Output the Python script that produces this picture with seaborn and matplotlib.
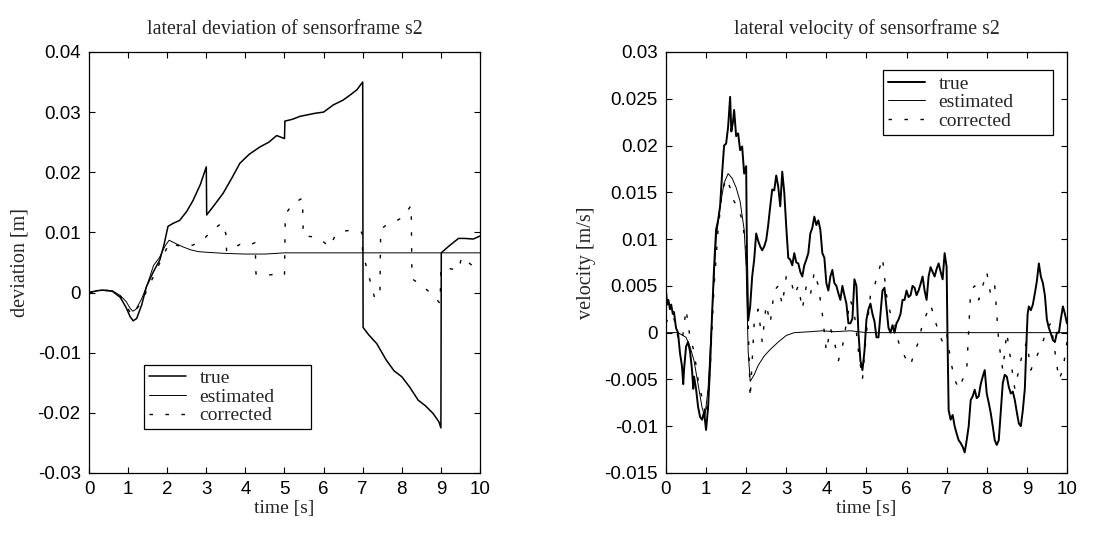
import numpy as np
import pandas as pd
import matplotlib
matplotlib.use("Agg")
import matplotlib.pyplot as plt
import seaborn as sns
from matplotlib.ticker import FuncFormatter, MultipleLocator

# ---------------- data: lateral deviation ----------------
DEV_TRUE_T = [0, 0.2, 0.36, 0.6, 0.8, 0.95, 1.05, 1.13, 1.22, 1.35, 1.47, 1.65, 1.81, 1.92, 2.02,
              2.15, 2.32, 2.5, 2.66, 2.85, 3.0, 3.01, 3.2, 3.43, 3.65, 3.86, 4.1, 4.37, 4.6, 4.8,
              5.0, 5.01, 5.2, 5.4, 5.78, 6.0, 6.25, 6.5, 6.67, 6.85, 7.0, 7.01, 7.15, 7.36, 7.6,
              7.8, 8.0, 8.2, 8.42, 8.6, 8.8, 8.95, 9.0, 9.01, 9.2, 9.45, 9.6, 9.83, 10.0]
DEV_TRUE_V = [0, 0.0003, 0.0004, 0.0002, -0.0008, -0.0025, -0.004, -0.0047, -0.0043, -0.002,
              0.001, 0.0035, 0.0054, 0.008, 0.011, 0.0115, 0.012, 0.0135, 0.0153, 0.018,
              0.0209, 0.0129, 0.0145, 0.0165, 0.019, 0.0215, 0.023, 0.0242, 0.025, 0.0261,
              0.0256, 0.0285, 0.0288, 0.0293, 0.0298, 0.030, 0.0312, 0.032, 0.0328, 0.0337,
              0.035, -0.0058, -0.007, -0.0085, -0.0112, -0.013, -0.014, -0.0157, -0.0179, -0.0188,
              -0.0201, -0.0215, -0.0225, 0.0066, 0.0077, 0.009, 0.009, 0.0089, 0.0094]

DEV_EST_T = [0, 0.3, 0.6, 0.8, 0.95, 1.05, 1.12, 1.2, 1.35, 1.5, 1.65, 1.8, 1.95, 2.05, 2.2,
             2.4, 2.6, 2.8, 3.0, 3.5, 4.0, 4.5, 5.0, 10.0]
DEV_EST_V = [0, 0.0004, 0.0003, -0.0005, -0.0015, -0.0026, -0.0031, -0.0028, -0.001, 0.0015,
             0.0045, 0.0058, 0.0078, 0.0087, 0.0082, 0.0076, 0.0071, 0.0068, 0.0067, 0.0065,
             0.0064, 0.0064, 0.0066, 0.0066]

DEV_COR_T = [0, 0.5, 0.8, 1.1, 1.3, 1.5, 1.8, 2.05, 2.4, 2.66, 2.9, 3.17, 3.4, 3.5, 3.52, 3.86,
             4.03, 4.25, 4.27, 4.58, 4.84, 5.0, 5.02, 5.22, 5.46, 5.48, 5.69, 5.86, 6.16, 6.29,
             6.5, 6.76, 6.98, 7.0, 7.31, 7.44, 7.46, 7.6, 7.86, 8.04, 8.24, 8.26, 8.5, 8.76,
             8.98, 9.0, 9.2, 9.45, 9.53, 9.8, 10.0]
DEV_COR_V = [0, 0.0004, -0.0006, -0.0038, -0.002, 0.0006, 0.0048, 0.0082, 0.0076, 0.0079,
             0.0087, 0.0104, 0.0116, 0.0098, 0.0068, 0.008, 0.0077, 0.0083, 0.0031, 0.0029,
             0.0031, 0.0029, 0.013, 0.0148, 0.0157, 0.0094, 0.0093, 0.0091, 0.0076, 0.0094,
             0.0102, 0.0104, 0.0100, 0.0066, -0.001, -0.0004, 0.0105, 0.0112, 0.0119, 0.0126,
             0.0145, 0.0023, 0.0012, -0.0002, -0.0018, 0.004, 0.004, 0.0037, 0.0059, 0.0045, 0.005]

# ---------------- data: lateral velocity ----------------
VEL_TRUE_T = [0.00, 0.03, 0.06, 0.10, 0.13, 0.17, 0.20, 0.25, 0.30, 0.35, 0.40, 0.43, 0.45, 0.50,
              0.55, 0.60, 0.65, 0.68, 0.70, 0.75, 0.80, 0.85, 0.90, 0.95, 1.00, 1.05, 1.10, 1.15,
              1.20, 1.25, 1.30, 1.35, 1.40, 1.45, 1.50, 1.55, 1.60, 1.63, 1.67, 1.70, 1.75, 1.80,
              1.85, 1.90, 1.95, 2.00, 2.02, 2.05, 2.10, 2.15, 2.20, 2.25, 2.30, 2.35, 2.40, 2.45,
              2.50, 2.55, 2.60, 2.65, 2.70, 2.75, 2.80, 2.85, 2.90, 2.95, 3.00, 3.05, 3.10, 3.15,
              3.20, 3.25, 3.30, 3.35, 3.40, 3.45, 3.50, 3.55, 3.60, 3.65, 3.70, 3.75, 3.80, 3.85,
              3.90, 3.95, 4.00, 4.05, 4.10, 4.15, 4.20, 4.25, 4.30, 4.35, 4.40, 4.45, 4.50, 4.55,
              4.60, 4.65, 4.70, 4.75, 4.80, 4.85, 4.90, 4.95, 5.00, 5.05, 5.10, 5.15, 5.20, 5.25,
              5.30, 5.35, 5.40, 5.45, 5.50, 5.55, 5.60, 5.65, 5.70, 5.75, 5.80, 5.85, 5.90, 5.95,
              6.00, 6.05, 6.10, 6.15, 6.20, 6.25, 6.30, 6.35, 6.40, 6.45, 6.50, 6.55, 6.60, 6.65,
              6.70, 6.75, 6.80, 6.85, 6.90, 6.95, 7.00, 7.02, 7.05, 7.10, 7.15, 7.20, 7.25, 7.30,
              7.35, 7.40, 7.45, 7.50, 7.55, 7.60, 7.65, 7.70, 7.75, 7.80, 7.85, 7.90, 7.95, 8.00,
              8.05, 8.10, 8.15, 8.20, 8.25, 8.30, 8.35, 8.40, 8.45, 8.50, 8.55, 8.60, 8.65, 8.70,
              8.75, 8.80, 8.85, 8.90, 8.95, 9.00, 9.02, 9.05, 9.10, 9.15, 9.20, 9.25, 9.30, 9.35,
              9.40, 9.45, 9.50, 9.55, 9.60, 9.65, 9.70, 9.75, 9.80, 9.85, 9.90, 9.95, 10.00]
VEL_TRUE_V = [0.0045, 0.0030, 0.0035, 0.0025, 0.0030, 0.0020, 0.0022, 0.0005, 0.0000, -0.0022,
              -0.0036, -0.0055, -0.0040, -0.0015, -0.0010, -0.0020, -0.0040, -0.0060, -0.0047,
              -0.0060, -0.0079, -0.0090, -0.0093, -0.0085, -0.0104, -0.0080, -0.0036, 0.0020,
              0.0070, 0.0110, 0.0120, 0.0135, 0.0170, 0.0200, 0.0202, 0.0220, 0.0252, 0.0215,
              0.0225, 0.0238, 0.0210, 0.0213, 0.0195, 0.0199, 0.0170, 0.0178, 0.0080, 0.0013,
              0.0028, 0.0060, 0.0078, 0.0106, 0.0098, 0.0092, 0.0088, 0.0092, 0.0099, 0.0115,
              0.0135, 0.0153, 0.0152, 0.0168, 0.0156, 0.0135, 0.0172, 0.0150, 0.0113, 0.0080,
              0.0078, 0.0072, 0.0085, 0.0075, 0.0074, 0.0065, 0.0060, 0.0072, 0.0078, 0.0085,
              0.0106, 0.0112, 0.0124, 0.0115, 0.0120, 0.0110, 0.0085, 0.0080, 0.0053, 0.0045,
              0.0060, 0.0067, 0.0053, 0.0050, 0.0042, 0.0035, 0.0050, 0.0040, 0.0031, 0.0010,
              0.0010, 0.0015, 0.0057, 0.0050, 0.0000, -0.0030, -0.0040, -0.0020, 0.0014, 0.0025,
              0.0031, 0.0020, 0.0012, -0.0005, -0.0005, 0.0020, 0.0045, 0.0048, 0.0027, 0.0005,
              0.0000, 0.0008, 0.0000, 0.0010, 0.0014, 0.0020, 0.0035, 0.0035, 0.0045, 0.0038,
              0.0040, 0.0050, 0.0048, 0.0040, 0.0045, 0.0052, 0.0060, 0.0045, 0.0035, 0.0060,
              0.0070, 0.0065, 0.0060, 0.0068, 0.0074, 0.0065, 0.0057, 0.0085, 0.0070, 0.0000,
              -0.0083, -0.0093, -0.0088, -0.0100, -0.0108, -0.0115, -0.0118, -0.0122, -0.0128,
              -0.0115, -0.0100, -0.0072, -0.0068, -0.0061, -0.0070, -0.0068, -0.0055, -0.0047,
              -0.0040, -0.0065, -0.0075, -0.0086, -0.0100, -0.0115, -0.0120, -0.0115, -0.0085,
              -0.0054, -0.0045, -0.0047, -0.0058, -0.0065, -0.0063, -0.0072, -0.0085, -0.0097,
              -0.0100, -0.0083, -0.0060, 0.0000, 0.0020, 0.0028, 0.0024, 0.0030, 0.0042, 0.0055,
              0.0074, 0.0060, 0.0053, 0.0040, 0.0014, 0.0005, -0.0001, -0.0008, -0.0010, 0.0000,
              0.0000, 0.0015, 0.0028, 0.0020, 0.0010]

VEL_EST_T = [0, 0.3, 0.5, 0.6, 0.7, 0.8, 0.9, 0.97, 1.05, 1.15, 1.25, 1.35, 1.45, 1.55, 1.65,
             1.75, 1.85, 1.95, 2.0, 2.05, 2.1, 2.2, 2.3, 2.45, 2.6, 2.8, 3.0, 3.2, 3.6, 3.9,
             4.2, 4.6, 5.0, 10.0]
VEL_EST_V = [0, 0, -0.0005, -0.0015, -0.003, -0.0055, -0.008, -0.009, -0.006, 0.002, 0.010,
             0.0135, 0.016, 0.017, 0.0165, 0.0155, 0.014, 0.011, 0.007, -0.002, -0.0052,
             -0.0045, -0.0035, -0.0025, -0.0018, -0.001, -0.0003, 0.0, 0.0001, 0.0002, 0.0001,
             0.0002, 0.0, 0.0]

VEL_COR_T = [0.0, 0.1, 0.2, 0.3, 0.4, 0.5, 0.6, 0.7, 0.8, 0.9, 1.0, 1.1, 1.2, 1.3, 1.4, 1.5,
             1.6, 1.7, 1.8, 1.9, 2.0, 2.1, 2.2, 2.3, 2.4, 2.5, 2.6, 2.7, 2.8, 2.9, 3.0, 3.1,
             3.2, 3.3, 3.4, 3.5, 3.6, 3.7, 3.8, 3.9, 4.0, 4.1, 4.2, 4.3, 4.4, 4.5, 4.6, 4.7,
             4.8, 4.9, 5.0, 5.1, 5.2, 5.3, 5.4, 5.5, 5.6, 5.7, 5.8, 5.9, 6.0, 6.1, 6.2, 6.3,
             6.4, 6.5, 6.6, 6.7, 6.8, 6.9, 7.0, 7.1, 7.2, 7.3, 7.4, 7.5, 7.6, 7.7, 7.8, 7.9,
             8.0, 8.1, 8.2, 8.3, 8.4, 8.5, 8.6, 8.7, 8.8, 8.9, 9.0, 9.1, 9.2, 9.3, 9.4, 9.5,
             9.6, 9.7, 9.8, 9.9, 10.0]
VEL_COR_V = [0.001, 0.002, 0.0015, -0.0005, -0.001, 0.0025, -0.0005, -0.002, -0.005, -0.007,
             -0.009, -0.004, 0.005, 0.011, 0.015, 0.0165, 0.0155, 0.014, 0.0135, 0.012, 0.009,
             -0.007, 0.001, 0.0025, -0.001, 0.003, 0.001, 0.0045, 0.005, 0.003, 0.006, 0.006,
             0.004, 0.005, 0.0025, 0.005, 0.004, 0.0065, 0.005, 0.002, -0.002, 0.0005, -0.001,
             -0.003, -0.0015, 0.001, 0.0035, 0.002, -0.002, -0.005, 0.0, 0.004, 0.005, 0.0065,
             0.008, 0.004, 0.002, 0.001, -0.001, -0.002, -0.003, -0.0035, -0.002, -0.001, 0.001,
             0.002, 0.003, 0.0015, 0.0, -0.001, 0.0, -0.003, -0.005, -0.006, -0.005, -0.004,
             0.0045, 0.005, 0.0035, 0.005, 0.0065, 0.004, 0.005, -0.001, -0.004, 0.0, -0.003,
             -0.006, -0.004, -0.002, -0.001, -0.004, -0.003, -0.002, -0.001, 0.0005, 0.001,
             -0.002, -0.005, -0.004, -0.001]

LEGEND_LABELS = ["true", "estimated", "corrected"]
TITLES = ["lateral deviation of sensorframe s2", "lateral velocity of sensorframe s2"]
YLABELS = ["deviation [m]", "velocity [m/s]"]
XLABEL = "time [s]"

# ---------------- styling ----------------
sns.set_theme(style="ticks")
plt.rcParams["font.family"] = ["Liberation Sans", "DejaVu Sans"]
plt.rcParams["axes.unicode_minus"] = False
SERIF = ["Liberation Serif", "DejaVu Serif"]

fig = plt.figure(figsize=(11.07, 5.35), dpi=100)
ax1 = fig.add_axes([0.0804, 0.1159, 0.3532, 0.787])
ax2 = fig.add_axes([0.6016, 0.1159, 0.3622, 0.787])

COR_DASH = (0, (2.5, 9.0))


def draw(ax, tt, tv, et, ev, ct, cv, true_lw):
    sns.lineplot(x=tt, y=tv, ax=ax, color="black", lw=true_lw, estimator=None, sort=False,
                 label=LEGEND_LABELS[0])
    sns.lineplot(x=et, y=ev, ax=ax, color="black", lw=0.7, estimator=None, sort=False,
                 label=LEGEND_LABELS[1])
    sns.lineplot(x=ct, y=cv, ax=ax, color="black", lw=1.0, estimator=None, sort=False,
                 label=LEGEND_LABELS[2], linestyle=COR_DASH)


draw(ax1, DEV_TRUE_T, DEV_TRUE_V, DEV_EST_T, DEV_EST_V, DEV_COR_T, DEV_COR_V, 1.1)
draw(ax2, VEL_TRUE_T, VEL_TRUE_V, VEL_EST_T, VEL_EST_V, VEL_COR_T, VEL_COR_V, 1.4)

fmt = FuncFormatter(lambda v, p: ("%g" % round(v, 6)))

for ax, title, ylab, ylim, ystep, leg_box in [
        (ax1, TITLES[0], YLABELS[0], (-0.03, 0.04), 0.01, (0.141, 0.104, 0.427, 0.153)),
        (ax2, TITLES[1], YLABELS[1], (-0.015, 0.03), 0.005, (0.541, 0.803, 0.424, 0.154))]:
    ax.set_xlim(0, 10)
    ax.set_ylim(*ylim)
    ax.xaxis.set_major_locator(MultipleLocator(1))
    ax.yaxis.set_major_locator(MultipleLocator(ystep))
    ax.xaxis.set_major_formatter(fmt)
    ax.yaxis.set_major_formatter(fmt)
    ax.tick_params(direction="in", length=4, width=0.8, top=True, right=True,
                   labelsize=13.5, colors="black", pad=6)
    for s in ax.spines.values():
        s.set_visible(True)
        s.set_linewidth(0.9)
        s.set_color("black")
    ax.set_title(title, family=SERIF, fontsize=14.3, pad=13)
    ax.set_xlabel(XLABEL, family=SERIF, fontsize=14, labelpad=1)
    ax.set_ylabel(ylab, family=SERIF, fontsize=14.5, labelpad=6)
    leg = ax.legend(loc="upper left", bbox_to_anchor=leg_box, mode="expand", borderaxespad=0,
                    prop={"family": SERIF, "size": 14}, frameon=True, fancybox=False,
                    handlelength=1.9, handletextpad=0.7, labelspacing=0.05,
                    borderpad=0.25, edgecolor="black", framealpha=1)
    leg.get_frame().set_linewidth(0.9)

fig.savefig("out.png", dpi=100)
